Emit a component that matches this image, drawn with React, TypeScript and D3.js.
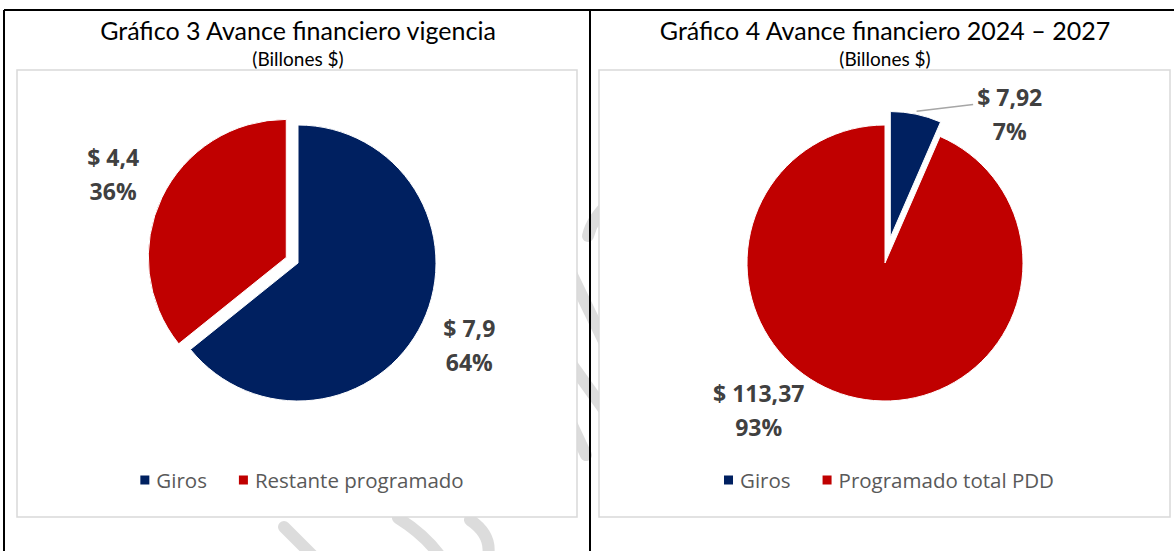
import React from "react";
import * as d3 from "d3";

const WIDTH = 1174;
const HEIGHT = 551;

// Gráfico 3
const chart3Title = "Gráfico 3 Avance financiero vigencia";
const chart3Categories = ["Giros", "Restante programado"];
const chart3Values = [7.9, 4.4];

// Gráfico 4
const chart4Title = "Gráfico 4 Avance financiero 2024 – 2027";
const chart4Categories = ["Giros", "Programado total PDD"];
const chart4Values = [7.92, 113.37];

const subtitle = "(Billones $)";
const sliceColors = ["#002060", "#C00000"];

const labelFont = "'Open Sans', sans-serif";
const titleFont = "Lato, 'Open Sans', sans-serif";

// measure text with a canvas so the legend can be centred
function textWidth(text: string, font: string) {
  const ctx = document.createElement("canvas").getContext("2d");
  if (!ctx) return text.length * 10;
  ctx.font = font;
  return ctx.measureText(text).width;
}

type PanelProps = {
  cx: number;
  cy: number;
  title: string;
  categories: string[];
  values: number[];
  decimals: number;
  explode: number[];
  radii: number[];
  labelAngles?: (number | null)[];
  labelDist: number[];
  leader?: boolean[];
};

function PiePanel({ cx, cy, title, categories, values, decimals, explode, radii, labelAngles, labelDist, leader }: PanelProps) {
  const pie = d3.pie<number>().sort(null).value(d => d);
  const arcs = pie(values);
  const total = d3.sum(values);
  const arc = d3.arc<d3.PieArcDatum<number>>().innerRadius(0);
  const fmtValue = (v: number) => "$ " + v.toFixed(decimals).replace(".", ",");
  const fmtPct = d3.format(".0%");

  // legend layout
  const legendFont = `20.5px ${labelFont}`;
  const items = categories.map(c => ({ c, w: 9 + 7 + textWidth(c, legendFont) }));
  const gap = 32;
  const legendWidth = d3.sum(items, d => d.w) + gap * (items.length - 1);
  let lx = cx + 4 - legendWidth / 2;
  const legendX = items.map(d => {
    const x = lx;
    lx += d.w + gap;
    return x;
  });

  return (
    <g>
      <text x={cx} y={30} textAnchor="middle" dominantBaseline="central"
        fontFamily={titleFont} fontSize={25} fill="#000">{title}</text>
      <text x={cx} y={58} textAnchor="middle" dominantBaseline="central"
        fontFamily={titleFont} fontSize={19} fill="#000">{subtitle}</text>

      {arcs.map((a, i) => {
        const mid = (a.startAngle + a.endAngle) / 2;
        const dx = Math.sin(mid) * explode[i];
        const dy = -Math.cos(mid) * explode[i];
        return (
          <path key={i} transform={`translate(${cx + dx},${cy + dy})`}
            d={arc.outerRadius(radii[i])(a) || ""} fill={sliceColors[i]}
            stroke="#fff" strokeWidth={1} />
        );
      })}

      {arcs.map((a, i) => {
        const mid = (a.startAngle + a.endAngle) / 2;
        const ang = labelAngles && labelAngles[i] != null ? (labelAngles[i] as number) * Math.PI / 180 : mid;
        const lx0 = cx + Math.sin(ang) * labelDist[i];
        const ly0 = cy - Math.cos(ang) * labelDist[i];
        const valueText = fmtValue(a.data);
        const vw = textWidth(valueText, `bold 23px ${labelFont}`);
        let line = null;
        if (leader && leader[i]) {
          const sx = cx + Math.sin(mid) * (explode[i] + radii[i] + 3);
          const sy = cy - Math.cos(mid) * (explode[i] + radii[i] + 3);
          const ex = lx0 - vw / 2 - 4;
          const ey = ly0 - 10;
          line = <path d={`M${sx},${sy}L${ex},${ey}`} stroke="#a6a6a6" strokeWidth={1.5} fill="none" />;
        }
        return (
          <g key={i}>
            {line}
            <text x={lx0} y={ly0 - 17} textAnchor="middle" dominantBaseline="central"
              fontFamily={labelFont} fontWeight="bold" fontSize={23} fill="#404040">{valueText}</text>
            <text x={lx0} y={ly0 + 17} textAnchor="middle" dominantBaseline="central"
              fontFamily={labelFont} fontWeight="bold" fontSize={23} fill="#404040">{fmtPct(a.data / total)}</text>
          </g>
        );
      })}

      {items.map((d, i) => (
        <g key={i} transform={`translate(${legendX[i]},480)`}>
          <rect x={0} y={-4.5} width={9} height={9} fill={sliceColors[i]} />
          <text x={16} y={0} dominantBaseline="central" fontFamily={labelFont}
            fontSize={20.5} fill="#595959">{d.c}</text>
        </g>
      ))}
    </g>
  );
}

export default function App() {
  return (
    <svg width={WIDTH} height={HEIGHT} style={{ position: "absolute", left: 0, top: 0, background: "#fff" }}>
      <rect width={WIDTH} height={HEIGHT} fill="#fff" />

      {/* faint watermark strokes, mostly hidden under the chart boxes */}
      <g stroke="#dcdcdc" strokeWidth={12} strokeLinecap="round" fill="none">
        <path d="M612,200 Q592,218 588,236" />
        <path d="M560,250 L620,375" />
        <path d="M565,355 L615,425" />
        <path d="M572,425 L586,455" />
        <path d="M284,527 L312,555" />
        <path d="M398,518 Q425,535 440,556" />
        <path d="M470,520 Q492,535 488,556" />
      </g>

      {/* chart areas */}
      <rect x={17} y={70} width={560} height={447} fill="#fff" stroke="#d9d9d9" strokeWidth={1.5} />
      <rect x={599} y={70} width={571} height={447} fill="#fff" stroke="#d9d9d9" strokeWidth={1.5} />

      {/* outer frame */}
      <g stroke="#000" strokeWidth={2}>
        <line x1={4} x2={WIDTH} y1={10} y2={10} />
        <line x1={4} x2={4} y1={10} y2={HEIGHT} />
        <line x1={590} x2={590} y1={10} y2={HEIGHT} />
      </g>

      <PiePanel cx={298} cy={263} title={chart3Title} categories={chart3Categories}
        values={chart3Values} decimals={1} explode={[0, 13]} radii={[138, 138]}
        labelDist={[190, 205]} />
      <PiePanel cx={885} cy={263} title={chart4Title} categories={chart4Categories}
        values={chart4Values} decimals={2} explode={[26, 0]} radii={[126, 138]}
        labelAngles={[40, 220.6]} labelDist={[194, 194]} leader={[true, false]} />
    </svg>
  );
}
